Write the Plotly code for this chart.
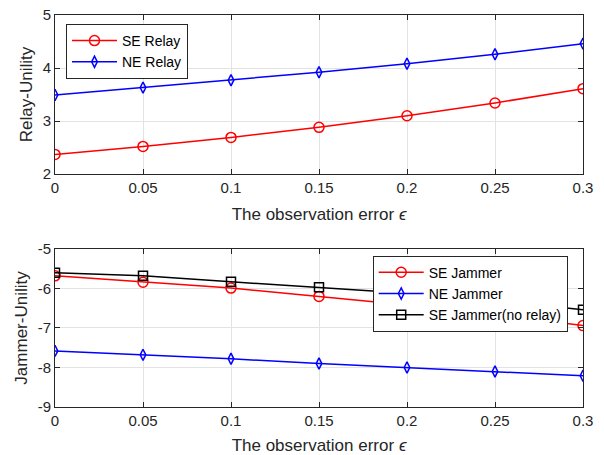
import plotly.graph_objects as go

x_vals = [0, 0.05, 0.1, 0.15, 0.2, 0.25, 0.3]
x_tick_text = ["0", "0.05", "0.1", "0.15", "0.2", "0.25", "0.3"]

se_relay = [2.37, 2.52, 2.69, 2.88, 3.10, 3.34, 3.61]
ne_relay = [3.49, 3.63, 3.77, 3.92, 4.08, 4.26, 4.46]

se_jammer = [-5.68, -5.84, -5.99, -6.20, -6.42, -6.66, -6.94]
ne_jammer = [-7.58, -7.68, -7.78, -7.90, -8.00, -8.10, -8.21]
se_jammer_norelay = [-5.60, -5.68, -5.83, -5.97, -6.12, -6.30, -6.54]

top_ticks = [2, 3, 4, 5]
top_tick_text = ["2", "3", "4", "5"]
bot_ticks = [-9, -8, -7, -6, -5]
bot_tick_text = ["-9", "-8", "-7", "-6", "-5"]

FONT = "Liberation Sans, Arial, sans-serif"
AX = "#262626"

fig = go.Figure()

def add(x, y, name, color, symbol, size, xa, ya, legend):
    fig.add_trace(go.Scatter(
        x=x, y=y, name=name, mode="lines+markers",
        line=dict(color=color, width=1.5),
        marker=dict(symbol=symbol, size=size, color=color,
                    line=dict(color=color, width=1.5)),
        xaxis=xa, yaxis=ya, legend=legend,
    ))

add(x_vals, se_relay, "SE Relay", "#ff0000", "circle-open", 10, "x", "y", "legend")
add(x_vals, ne_relay, "NE Relay", "#0000ff", "diamond-tall-open", 8, "x", "y", "legend")
add(x_vals, se_jammer, "SE Jammer", "#ff0000", "circle-open", 10, "x2", "y2", "legend2")
add(x_vals, ne_jammer, "NE Jammer", "#0000ff", "diamond-tall-open", 8, "x2", "y2", "legend2")
add(x_vals, se_jammer_norelay, "SE Jammer(no relay)", "#000000", "square-open", 9, "x2", "y2", "legend2")

xtitle = "The observation error <i>ϵ</i>"
xcommon = dict(range=[0, 0.3], tickvals=x_vals, ticktext=x_tick_text,
               showline=True, linecolor=AX, linewidth=1, mirror="ticks",
               ticks="inside", ticklen=5, tickcolor=AX, automargin=False,
               showgrid=True, gridcolor="#e3e3e3", gridwidth=1,
               zeroline=False, tickfont=dict(size=15, color=AX, family=FONT),
               title=dict(text=xtitle, font=dict(size=17, color=AX, family=FONT), standoff=13))
ycommon = dict(showline=True, linecolor=AX, linewidth=1, mirror="ticks",
               ticks="inside", ticklen=5, tickcolor=AX, automargin=False,
               showgrid=True, gridcolor="#e3e3e3", gridwidth=1,
               zeroline=False, tickfont=dict(size=15, color=AX, family=FONT))

fig.update_layout(
    width=604, height=455,
    margin=dict(l=55, r=21, t=15, b=48),
    paper_bgcolor="white", plot_bgcolor="white",
    font=dict(family=FONT, color=AX),
    xaxis=dict(domain=[0, 1], anchor="y", **xcommon),
    yaxis=dict(domain=[0.5944, 1], anchor="x", range=[2, 5], tickvals=top_ticks, ticktext=top_tick_text,
               title=dict(text="Relay-Unility", font=dict(size=17, color=AX, family=FONT), standoff=5), **ycommon),
    xaxis2=dict(domain=[0, 1], anchor="y2", **xcommon),
    yaxis2=dict(domain=[0, 0.4031], anchor="x2", range=[-9, -5], tickvals=bot_ticks, ticktext=bot_tick_text,
                title=dict(text="Jammer-Unility", font=dict(size=17, color=AX, family=FONT), standoff=5), **ycommon),
    legend=dict(x=0.0208, y=0.977, xanchor="left", yanchor="top",
                bgcolor="white", bordercolor=AX, borderwidth=1,
                font=dict(size=14, color="black", family=FONT), tracegroupgap=0, itemwidth=45),
    legend2=dict(x=0.6017, y=0.386, xanchor="left", yanchor="top",
                 bgcolor="white", bordercolor=AX, borderwidth=1,
                 font=dict(size=14, color="black", family=FONT), tracegroupgap=0, itemwidth=45),
    showlegend=True,
)

fig.write_html("out.html", config={"displayModeBar": False},
               post_script="document.body.style.margin='0px';")
